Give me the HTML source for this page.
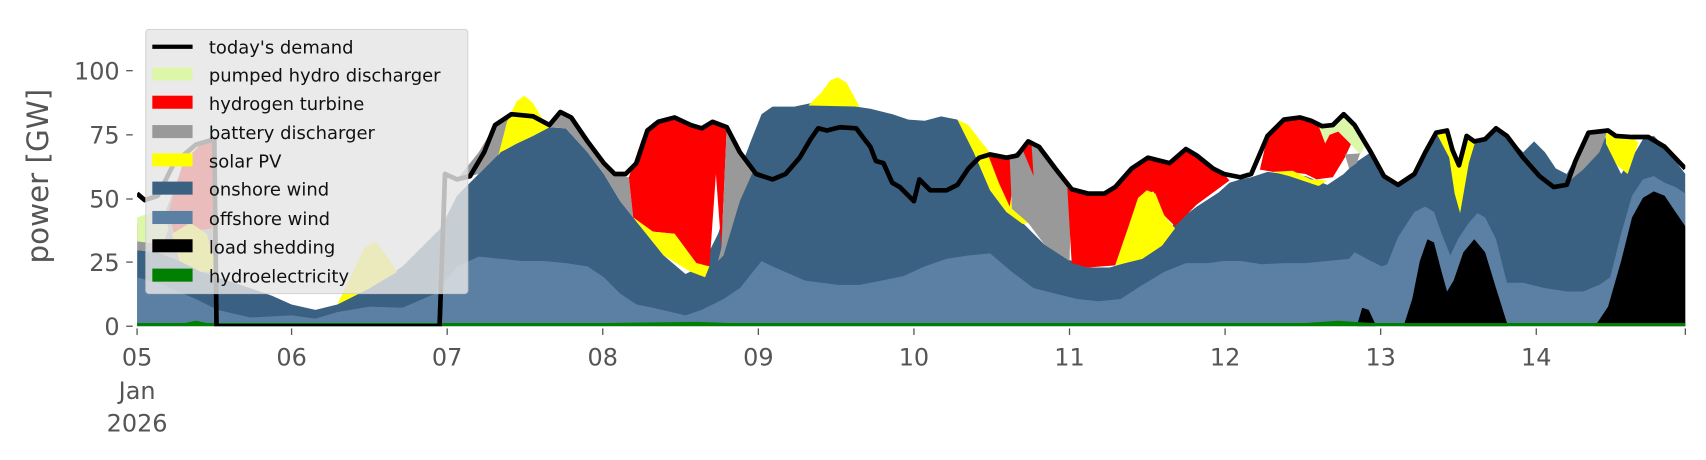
<!DOCTYPE html>
<html><head><meta charset="utf-8"><style>
html,body{margin:0;padding:0;background:#fff;width:1706px;height:460px;overflow:hidden}
svg{display:block;font-family:"DejaVu Sans","Liberation Sans",sans-serif}
</style></head><body>
<svg width="1706" height="460" viewBox="0 0 1568 423" preserveAspectRatio="none" xmlns="http://www.w3.org/2000/svg">
<defs><clipPath id="c"><rect x="126" y="0" width="1423" height="300"/></clipPath></defs>
<g clip-path="url(#c)">
<polygon fill="#3b6182" points="126,300 126,230 145,232 165,240 185,250 200,255 215,260 230,265 250,272 268,280 290,285 310,280 340,265 370,245 390,225 405,210 420,180 440,160 460,140 475,132 490,125 505,117 520,118 540,140 555,160 570,185 590,210 610,235 630,252 645,245 660,215 675,170 690,130 700,105 710,98 730,98 745,95 760,96 780,97 800,100 820,105 835,110 850,111 865,107 880,110 895,140 910,175 925,195 940,205 960,225 985,240 1000,246 1020,246 1040,240 1060,225 1080,205 1100,190 1120,177 1130,168 1140,165 1150,163 1165,158 1180,160 1200,162 1220,170 1235,160 1245,150 1260,140 1272,162 1285,170 1300,160 1310,140 1320,122 1335,138 1345,160 1355,130 1365,128 1375,118 1385,125 1400,140 1410,130 1420,140 1430,155 1440,160 1448,145 1460,122 1475,125 1485,150 1490,160 1500,145 1510,128 1520,125 1530,135 1549,160 1549,300"/>
<polygon fill="#5b80a4" points="126,300 126,255 150,262 180,275 200,285 230,292 268,290 290,293 310,287 340,282 370,283 400,270 420,245 440,236 460,238 480,240 500,240 520,242 540,245 555,255 570,270 585,280 600,283 630,290 645,285 665,275 680,265 700,240 710,245 740,258 770,262 790,262 810,258 830,254 850,245 870,238 890,235 910,233 930,250 950,265 970,270 990,275 1010,277 1030,275 1050,262 1070,250 1090,242 1110,242 1125,240 1140,240 1160,243 1180,242 1200,242 1220,240 1240,238 1245,232 1260,240 1270,245 1275,243 1285,218 1300,195 1310,190 1318,195 1325,215 1333,235 1340,220 1350,205 1358,196 1365,200 1375,220 1385,260 1400,260 1420,265 1440,268 1455,268 1470,262 1480,255 1490,215 1500,180 1510,165 1520,162 1530,168 1540,172 1549,178 1549,300"/>
<polygon fill="#000" points="1247,300 1252,283 1258,285 1265,300"/>
<polygon fill="#000" points="1290,300 1298,275 1305,240 1312,220 1318,223 1325,250 1330,268 1336,258 1345,232 1355,220 1365,232 1375,265 1386,300"/>
<polygon fill="#000" points="1466,300 1478,282 1490,240 1500,200 1510,182 1520,176 1530,180 1540,195 1549,208 1549,300"/>
<polygon fill="#008000" points="126,300 126,297 170,297 180,295 190,297 560,297 640,296 670,297 1200,297 1230,295 1260,297 1549,297 1549,300"/>
<polygon fill="#999" points="126,230 126,205 150,200 165,160 180,140 197,128 200,255 185,250 165,240 145,232"/>
<polygon fill="#ddf7a8" points="126,200 140,195 150,192 155,210 150,225 126,222"/>
<polygon fill="#ff0000" points="155,195 168,150 185,132 197,128 195,210 160,215"/>
<polygon fill="#ffff00" points="158,215 175,205 190,215 200,250 185,250 165,240"/>
<polygon fill="#ffff00" points="310,280 322,255 335,228 345,222 355,235 365,250 340,265"/>
<polygon fill="#999" points="420,165 440,140 455,115 470,105 490,107 505,115 515,103 525,108 540,130 555,150 565,160 578,163 582,200 570,185 555,160 540,140 520,118 505,117 490,125 475,132 460,140 440,160"/>
<polygon fill="#ffff00" points="458,143 466,112 475,93 482,88 490,95 500,112 505,117 490,125 475,132 460,140"/>
<polygon fill="#ff0000" points="578,163 590,128 600,113 620,108 635,115 645,118 655,112 668,117 663,228 658,160 652,245 640,242 620,215 600,213 582,200"/>
<polygon fill="#ffff00" points="582,200 600,213 620,215 640,242 652,245 648,255 635,250 610,235 590,210"/>
<polygon fill="#999" points="668,117 680,140 692,158 680,185 665,235 660,240 663,228"/>
<polygon fill="#ffff00" points="743,97 755,85 763,74 770,71 778,76 790,98"/>
<polygon fill="#ffff00" points="880,110 890,115 900,128 912,143 920,168 935,192 945,205 940,206 925,195 910,175 895,140"/>
<polygon fill="#ff0000" points="908,142 935,145 928,190 918,168"/>
<polygon fill="#999" points="928,145 945,131 955,135 970,155 985,174 983,240 960,225 945,205 930,192"/>
<polygon fill="#ff0000" points="940,138 948,131 950,162"/>
<polygon fill="#ff0000" points="981,173 1000,178 1015,178 1025,172 1040,155 1055,145 1075,150 1090,137 1100,143 1115,155 1125,160 1130,166 1100,188 1080,208 1070,198 1060,176 1048,182 1035,215 1025,244 1000,246 985,242"/>
<polygon fill="#ffff00" points="1025,244 1035,215 1046,182 1054,175 1062,178 1070,198 1080,210 1068,226 1050,238 1030,243"/>
<polygon fill="#ff0000" points="1158,156 1165,125 1180,110 1195,108 1205,111 1215,116 1218,132 1222,115 1232,122 1242,132 1236,145 1225,163 1210,165 1200,160 1185,158 1170,158"/>
<polygon fill="#ffff00" points="1170,158 1188,157 1205,165 1220,166 1212,171 1200,167 1185,162"/>
<polygon fill="#ddf7a8" points="1212,116 1222,115 1235,106 1245,115 1256,132 1250,142 1240,131 1230,121 1222,124 1218,132"/>
<polygon fill="#999" points="1236,142 1250,141 1247,150 1240,155"/>
<polygon fill="#ffff00" points="1320,122 1330,120 1335,138 1341,152 1348,125 1356,130 1350,150 1342,196 1337,178 1332,145"/>
<polygon fill="#999" points="1438,170 1448,147 1460,122 1478,120 1470,140 1455,156"/>
<polygon fill="#ffff00" points="1476,120 1485,125 1500,126 1506,131 1496,160 1486,152 1476,132"/>
<polyline fill="none" stroke="#000" stroke-width="4.3" stroke-linejoin="round" points="126,178 133,184 145,180 160,150 180,133 197,128 199,300 404,300 409,160 420,165 432,162 445,140 455,115 470,105 490,107 505,115 515,103 525,108 540,130 555,150 565,160 575,160 585,150 595,120 605,112 620,108 635,115 645,118 655,112 668,117 680,140 695,160 710,165 722,160 735,145 745,128 752,118 760,120 772,117 787,118 796,130 800,135 805,148 812,150 820,168 827,172 835,180 840,185 845,165 855,175 870,175 880,170 890,155 900,145 910,142 925,145 935,143 945,130 955,135 970,155 985,174 1000,178 1015,178 1025,172 1040,155 1055,145 1075,150 1090,137 1100,143 1115,155 1125,160 1140,163 1150,160 1165,125 1180,110 1195,108 1205,111 1215,116 1225,115 1235,105 1245,115 1260,140 1272,162 1285,170 1300,160 1310,140 1320,122 1330,120 1335,138 1341,152 1348,125 1355,130 1365,128 1375,118 1385,125 1400,145 1415,162 1428,172 1440,170 1448,148 1460,122 1478,120 1485,125 1500,126 1515,126 1530,135 1549,155"/>
</g>
<g stroke="#555" stroke-width="1.2">
<line x1="116" y1="65" x2="122" y2="65"/><line x1="116" y1="124" x2="122" y2="124"/><line x1="116" y1="183" x2="122" y2="183"/><line x1="116" y1="241" x2="122" y2="241"/><line x1="116" y1="300" x2="122" y2="300"/>
<line x1="126" y1="302" x2="126" y2="308"/><line x1="268" y1="302" x2="268" y2="308"/><line x1="411" y1="302" x2="411" y2="308"/><line x1="554" y1="302" x2="554" y2="308"/><line x1="697" y1="302" x2="697" y2="308"/><line x1="840" y1="302" x2="840" y2="308"/><line x1="983" y1="302" x2="983" y2="308"/><line x1="1126" y1="302" x2="1126" y2="308"/><line x1="1269" y1="302" x2="1269" y2="308"/><line x1="1412" y1="302" x2="1412" y2="308"/><line x1="1549" y1="302" x2="1549" y2="308"/>
</g>
<g fill="#555" font-size="22" text-anchor="end">
<text x="110" y="73">100</text><text x="110" y="132">75</text><text x="110" y="191">50</text><text x="110" y="249">25</text><text x="110" y="308">0</text>
</g>
<g fill="#555" font-size="22" text-anchor="middle">
<text x="126" y="336">05</text><text x="126" y="367">Jan</text><text x="126" y="397">2026</text>
<text x="268" y="336">06</text><text x="411" y="336">07</text><text x="554" y="336">08</text><text x="697" y="336">09</text><text x="840" y="336">10</text><text x="983" y="336">11</text><text x="1126" y="336">12</text><text x="1269" y="336">13</text><text x="1412" y="336">14</text>
</g>
<text x="44" y="162" fill="#555" font-size="27" text-anchor="middle" transform="rotate(-90 44 162)">power [GW]</text>
<rect x="134" y="27" width="296" height="243" rx="3" fill="rgba(229,229,229,0.82)" stroke="rgba(204,204,204,0.8)"/>
<line x1="140" y1="43" x2="177" y2="43" stroke="#000" stroke-width="4"/>
<rect x="140" y="62" width="37" height="12" fill="#ddf7a8"/>
<rect x="140" y="88" width="37" height="12" fill="#ff0000"/>
<rect x="140" y="115" width="37" height="12" fill="#999"/>
<rect x="140" y="141" width="37" height="12" fill="#ffff00"/>
<rect x="140" y="167" width="37" height="12" fill="#3b6182"/>
<rect x="140" y="194" width="37" height="12" fill="#5b80a4"/>
<rect x="140" y="220" width="37" height="12" fill="#000"/>
<rect x="140" y="247" width="37" height="12" fill="#008000"/>
<g fill="#111" font-size="16.5">
<text x="192" y="49">today's demand</text>
<text x="192" y="75">pumped hydro discharger</text>
<text x="192" y="101">hydrogen turbine</text>
<text x="192" y="128">battery discharger</text>
<text x="192" y="154">solar PV</text>
<text x="192" y="180">onshore wind</text>
<text x="192" y="207">offshore wind</text>
<text x="192" y="233">load shedding</text>
<text x="192" y="260">hydroelectricity</text>
</g>
</svg>
</body></html>
